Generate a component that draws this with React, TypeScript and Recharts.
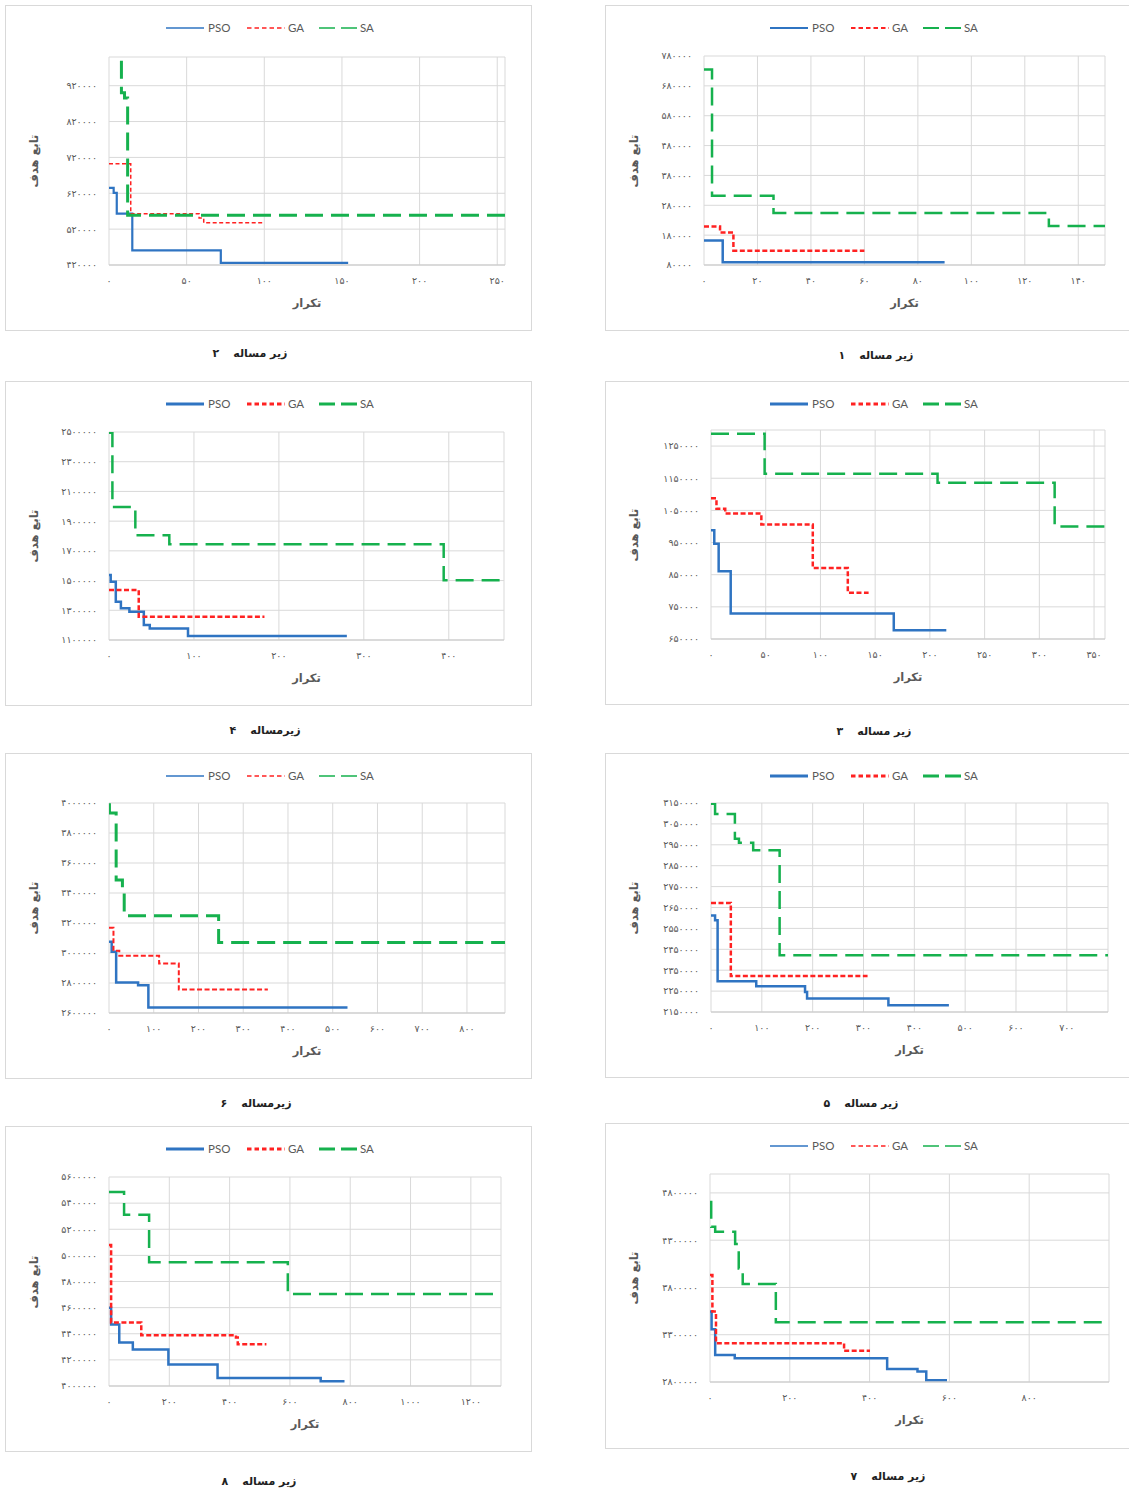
import React from 'react';
import { LineChart, Line, XAxis, YAxis, CartesianGrid } from 'recharts';

// ---------- data (iteration, objective value) ----------
// زیر مساله ۲
const sub2XTicks = [0, 50, 100, 150, 200, 250];
const sub2YTicks = [420000, 520000, 620000, 720000, 820000, 920000];
const sub2PSO = [[0, 635000], [3, 621000], [5, 563000], [15, 461000], [72, 426000], [154, 426000]];
const sub2GA = [[0, 702000], [14, 563000], [58, 551000], [61, 538000], [100, 538000]];
const sub2SA = [[0, 1100000], [8, 900000], [10, 886000], [12, 559000], [255, 559000]];

// زیر مساله ۱
const sub1XTicks = [0, 20, 40, 60, 80, 100, 120, 140];
const sub1YTicks = [80000, 180000, 280000, 380000, 480000, 580000, 680000, 780000];
const sub1PSO = [[0, 162000], [7, 89000], [90, 89000]];
const sub1GA = [[0, 209000], [6, 189000], [11, 128000], [60, 128000]];
const sub1SA = [[0, 735000], [3, 312000], [26, 254000], [129, 211000], [150, 211000]];

// زیر مساله ۴
const sub4XTicks = [0, 100, 200, 300, 400];
const sub4YTicks = [1100000, 1300000, 1500000, 1700000, 1900000, 2100000, 2300000, 2500000];
const sub4PSO = [[0, 1537000], [2, 1492000], [8, 1358000], [14, 1313000], [24, 1290000], [41, 1201000], [48, 1178000], [93, 1127000], [280, 1127000]];
const sub4GA = [[0, 1436000], [35, 1257000], [183, 1257000]];
const sub4SA = [[0, 2495000], [4, 1996000], [31, 1805000], [71, 1745000], [394, 1503000], [465, 1503000]];

// زیر مساله ۳
const sub3XTicks = [0, 50, 100, 150, 200, 250, 300, 350];
const sub3YTicks = [650000, 750000, 850000, 950000, 1050000, 1150000, 1250000];
const sub3PSO = [[0, 988000], [3, 946000], [7, 861000], [18, 729000], [167, 677000], [215, 677000]];
const sub3GA = [[0, 1088000], [5, 1055000], [13, 1040000], [46, 1006000], [93, 871000], [125, 794000], [144, 794000]];
const sub3SA = [[0, 1288000], [49, 1164000], [207, 1136000], [314, 1000000], [360, 1000000]];

// زیر مساله ۶
const sub6XTicks = [0, 100, 200, 300, 400, 500, 600, 700, 800];
const sub6YTicks = [2600000, 2800000, 3000000, 3200000, 3400000, 3600000, 3800000, 4000000];
const sub6PSO = [[0, 3075000], [6, 3008000], [16, 2803000], [65, 2785000], [88, 2636000], [533, 2636000]];
const sub6GA = [[0, 3169000], [10, 3015000], [23, 2981000], [112, 2930000], [156, 2756000], [355, 2756000]];
const sub6SA = [[0, 3989000], [1, 3933000], [16, 3487000], [30, 3400000], [34, 3249000], [245, 3070000], [885, 3070000]];

// زیر مساله ۵
const sub5XTicks = [0, 100, 200, 300, 400, 500, 600, 700];
const sub5YTicks = [2150000, 2250000, 2350000, 2450000, 2550000, 2650000, 2750000, 2850000, 2950000, 3050000, 3150000];
const sub5PSO = [[0, 2612000], [8, 2589000], [13, 2297000], [89, 2273000], [185, 2246000], [189, 2214000], [349, 2182000], [468, 2182000]];
const sub5GA = [[0, 2672000], [39, 2322000], [308, 2322000]];
const sub5SA = [[0, 3147000], [8, 3097000], [47, 2979000], [55, 2960000], [83, 2924000], [135, 2421000], [781, 2421000]];

// زیر مساله ۸
const sub8XTicks = [0, 200, 400, 600, 800, 1000, 1200];
const sub8YTicks = [4000000, 4200000, 4400000, 4600000, 4800000, 5000000, 5200000, 5400000, 5600000];
const sub8PSO = [[0, 4599000], [7, 4471000], [34, 4333000], [79, 4279000], [197, 4164000], [360, 4061000], [702, 4036000], [781, 4036000]];
const sub8GA = [[0, 5080000], [7, 4486000], [107, 4389000], [421, 4371000], [427, 4320000], [522, 4320000]];
const sub8SA = [[0, 5485000], [50, 5311000], [133, 4947000], [593, 4704000], [1300, 4704000]];

// زیر مساله ۷
const sub7XTicks = [0, 200, 400, 600, 800];
const sub7YTicks = [2800000, 3300000, 3800000, 4300000, 4800000];
const sub7PSO = [[0, 3545000], [4, 3359000], [13, 3085000], [62, 3050000], [444, 2937000], [520, 2912000], [542, 2818000], [594, 2818000]];
const sub7GA = [[0, 3932000], [6, 3545000], [15, 3211000], [336, 3130000], [401, 3130000]];
const sub7SA = [[0, 4705000], [3, 4442000], [13, 4389000], [63, 4259000], [72, 4000000], [82, 3837000], [165, 3433000], [1000, 3433000]];

const seriesNames = ['PSO', 'GA', 'SA'];
const yTitle = 'تابع هدف';
const xTitle = 'تکرار';

// ---------- styling ----------
const BLUE = '#2f74c2';
const RED = '#ff2222';
const GREEN = '#16b14e';
const GRID = '#d9d9d9';
const TXT = '#595959';

const FA = ['۰', '۱', '۲', '۳', '۴', '۵', '۶', '۷', '۸', '۹'];
const fa = (v: number | string) => String(v).replace(/\d/g, (d) => FA[+d]);
const toPts = (arr: number[][]) => arr.map(([x, y]) => ({ x, y }));

type Cfg = {
  label: string; num: string;
  box: { x: number; y: number; w: number; h: number };
  plot: { l: number; r: number; t: number; b: number };
  xDomain: number[]; yDomain: number[];
  xTicks: number[]; yTicks: number[];
  pso: number[][]; ga: number[][]; sa: number[][];
  sw: number[]; lw: number[]; cap: { x: number; y: number };
};

const panels: Cfg[] = [
  { label: 'زیر مساله', num: '۲', box: { x: 5, y: 5, w: 527, h: 326 }, plot: { l: 109, r: 505, t: 57, b: 265 }, xDomain: [0, 255], yDomain: [420000, 1000000], xTicks: sub2XTicks, yTicks: sub2YTicks, pso: sub2PSO, ga: sub2GA, sa: sub2SA, sw: [2.2, 1.5, 3], lw: [1.5, 1.5, 1.5], cap: { x: 250, y: 353 } },
  { label: 'زیر مساله', num: '۱', box: { x: 605, y: 5, w: 527, h: 326 }, plot: { l: 704, r: 1105, t: 56, b: 265 }, xDomain: [0, 150], yDomain: [80000, 780000], xTicks: sub1XTicks, yTicks: sub1YTicks, pso: sub1PSO, ga: sub1GA, sa: sub1SA, sw: [2.5, 2.5, 2.5], lw: [2, 2, 2], cap: { x: 876, y: 355 } },
  { label: 'زیرمساله', num: '۴', box: { x: 5, y: 381, w: 527, h: 325 }, plot: { l: 109, r: 504, t: 432, b: 640 }, xDomain: [0, 465], yDomain: [1100000, 2500000], xTicks: sub4XTicks, yTicks: sub4YTicks, pso: sub4PSO, ga: sub4GA, sa: sub4SA, sw: [2.5, 2.5, 2.5], lw: [3, 3, 3], cap: { x: 265, y: 730 } },
  { label: 'زیر مساله', num: '۳', box: { x: 605, y: 381, w: 527, h: 324 }, plot: { l: 711, r: 1105, t: 430, b: 639 }, xDomain: [0, 360], yDomain: [650000, 1300000], xTicks: sub3XTicks, yTicks: sub3YTicks, pso: sub3PSO, ga: sub3GA, sa: sub3SA, sw: [2.5, 2.5, 2.5], lw: [3, 3, 3], cap: { x: 874, y: 731 } },
  { label: 'زیرمساله', num: '۶', box: { x: 5, y: 753, w: 527, h: 326 }, plot: { l: 109, r: 505, t: 803, b: 1013 }, xDomain: [0, 885], yDomain: [2600000, 4000000], xTicks: sub6XTicks, yTicks: sub6YTicks, pso: sub6PSO, ga: sub6GA, sa: sub6SA, sw: [2.5, 2, 3], lw: [1.5, 1.5, 1.5], cap: { x: 256, y: 1103 } },
  { label: 'زیر مساله', num: '۵', box: { x: 605, y: 753, w: 527, h: 325 }, plot: { l: 711, r: 1108, t: 803, b: 1012 }, xDomain: [0, 781], yDomain: [2150000, 3150000], xTicks: sub5XTicks, yTicks: sub5YTicks, pso: sub5PSO, ga: sub5GA, sa: sub5SA, sw: [2.5, 2.5, 2.5], lw: [3, 3, 3], cap: { x: 861, y: 1103 } },
  { label: 'زیر مساله', num: '۸', box: { x: 5, y: 1126, w: 527, h: 326 }, plot: { l: 109, r: 501, t: 1177, b: 1386 }, xDomain: [0, 1300], yDomain: [4000000, 5600000], xTicks: sub8XTicks, yTicks: sub8YTicks, pso: sub8PSO, ga: sub8GA, sa: sub8SA, sw: [2.5, 2.5, 2.5], lw: [3, 3, 3], cap: { x: 259, y: 1481 } },
  { label: 'زیر مساله', num: '۷', box: { x: 605, y: 1123, w: 527, h: 326 }, plot: { l: 710, r: 1109, t: 1174, b: 1382 }, xDomain: [0, 1000], yDomain: [2800000, 5000000], xTicks: sub7XTicks, yTicks: sub7YTicks, pso: sub7PSO, ga: sub7GA, sa: sub7SA, sw: [2.5, 2.5, 2.5], lw: [1.5, 1.5, 1.5], cap: { x: 888, y: 1476 } },
];

function LegendRow({ x, y, lw }: { x: number; y: number; lw: number[] }) {
  const ts = { fontFamily: 'Lato, "Open Sans", sans-serif', fontSize: 11.5, fill: TXT } as React.CSSProperties;
  return (
    <svg style={{ position: 'absolute', left: x, top: y - 8 }} width={220} height={16}>
      <line x1={0} x2={38} y1={8} y2={8} stroke={BLUE} strokeWidth={lw[0]} />
      <text x={42} y={12} style={ts}>{seriesNames[0]}</text>
      <line x1={81} x2={119} y1={8} y2={8} stroke={RED} strokeWidth={lw[1]} strokeDasharray="4.5 3" />
      <text x={122} y={12} style={ts}>{seriesNames[1]}</text>
      <line x1={153} x2={191} y1={8} y2={8} stroke={GREEN} strokeWidth={lw[2]} strokeDasharray="16 6" />
      <text x={194} y={12} style={ts}>{seriesNames[2]}</text>
    </svg>
  );
}

function Panel({ c }: { c: Cfg }) {
  const { box, plot } = c;
  const XH = 30;
  const tickStyle = { fontSize: 9.5, fill: TXT, fontFamily: '"DejaVu Sans", sans-serif', letterSpacing: 1.8 };
  const legendLeft = box.x + (box.x < 300 ? 161 : 165);
  return (
    <>
      <div style={{ position: 'absolute', left: box.x, top: box.y, width: box.w, height: box.h, border: `1px solid ${GRID}`, boxSizing: 'border-box', background: '#fff' }} />
      <div style={{ position: 'absolute', left: box.x, top: box.y }}>
        <LineChart
          width={box.w}
          height={box.h}
          margin={{ top: plot.t - box.y, right: box.x + box.w - plot.r, bottom: box.y + box.h - plot.b - XH, left: 0 }}
        >
          <CartesianGrid stroke={GRID} strokeWidth={1} />
          <XAxis
            type="number"
            dataKey="x"
            domain={c.xDomain}
            ticks={c.xTicks}
            interval={0}
            allowDataOverflow
            height={XH}
            tickLine={false}
            axisLine={{ stroke: '#c8c8c8' }}
            tick={tickStyle}
            tickMargin={6}
            tickFormatter={fa}
          />
          <YAxis
            type="number"
            domain={c.yDomain}
            ticks={c.yTicks}
            interval={0}
            allowDataOverflow
            width={plot.l - box.x}
            axisLine={false}
            tickLine={false}
            tick={tickStyle}
            tickMargin={6}
            tickFormatter={fa}
          />
          <Line data={toPts(c.pso)} dataKey="y" name={seriesNames[0]} type="stepAfter" stroke={BLUE} strokeWidth={c.sw[0]} dot={false} activeDot={false} isAnimationActive={false} />
          <Line data={toPts(c.ga)} dataKey="y" name={seriesNames[1]} type="stepAfter" stroke={RED} strokeWidth={c.sw[1]} strokeDasharray={c.sw[1] < 2 ? '4 2.5' : '5 2.5'} dot={false} activeDot={false} isAnimationActive={false} />
          <Line data={toPts(c.sa)} dataKey="y" name={seriesNames[2]} type="stepAfter" stroke={GREEN} strokeWidth={c.sw[2]} strokeDasharray="18 8" dot={false} activeDot={false} isAnimationActive={false} />
        </LineChart>
      </div>
      <LegendRow x={legendLeft} y={box.y + 23} lw={c.lw} />
      <div style={{ position: 'absolute', left: box.x + 29, top: (plot.t + plot.b) / 2, transform: 'translate(-50%, -50%) rotate(-90deg)', whiteSpace: 'nowrap', fontFamily: '"DejaVu Sans", sans-serif', fontWeight: 'bold', fontSize: 11.5, color: TXT, direction: 'rtl' }}>{yTitle}</div>
      <div style={{ position: 'absolute', left: (plot.l + plot.r) / 2, top: plot.b + 38, transform: 'translate(-50%, -50%)', whiteSpace: 'nowrap', fontFamily: '"DejaVu Sans", sans-serif', fontWeight: 'bold', fontSize: 11.5, color: TXT, direction: 'rtl' }}>{xTitle}</div>
      <div style={{ position: 'absolute', left: c.cap.x, top: c.cap.y, transform: 'translate(-50%, -50%)', whiteSpace: 'nowrap', fontFamily: '"DejaVu Sans", sans-serif', fontWeight: 'bold', fontSize: 11, color: '#222', display: 'flex', direction: 'ltr', gap: 14 }}>
        <span>{c.num}</span>
        <span style={{ direction: 'rtl' }}>{c.label}</span>
      </div>
    </>
  );
}

export default function App() {
  return (
    <div style={{ position: 'absolute', left: 0, top: 0, width: 1129, height: 1488, overflow: 'hidden', background: '#fff' }}>
      {panels.map((c, i) => (
        <Panel key={i} c={c} />
      ))}
    </div>
  );
}
